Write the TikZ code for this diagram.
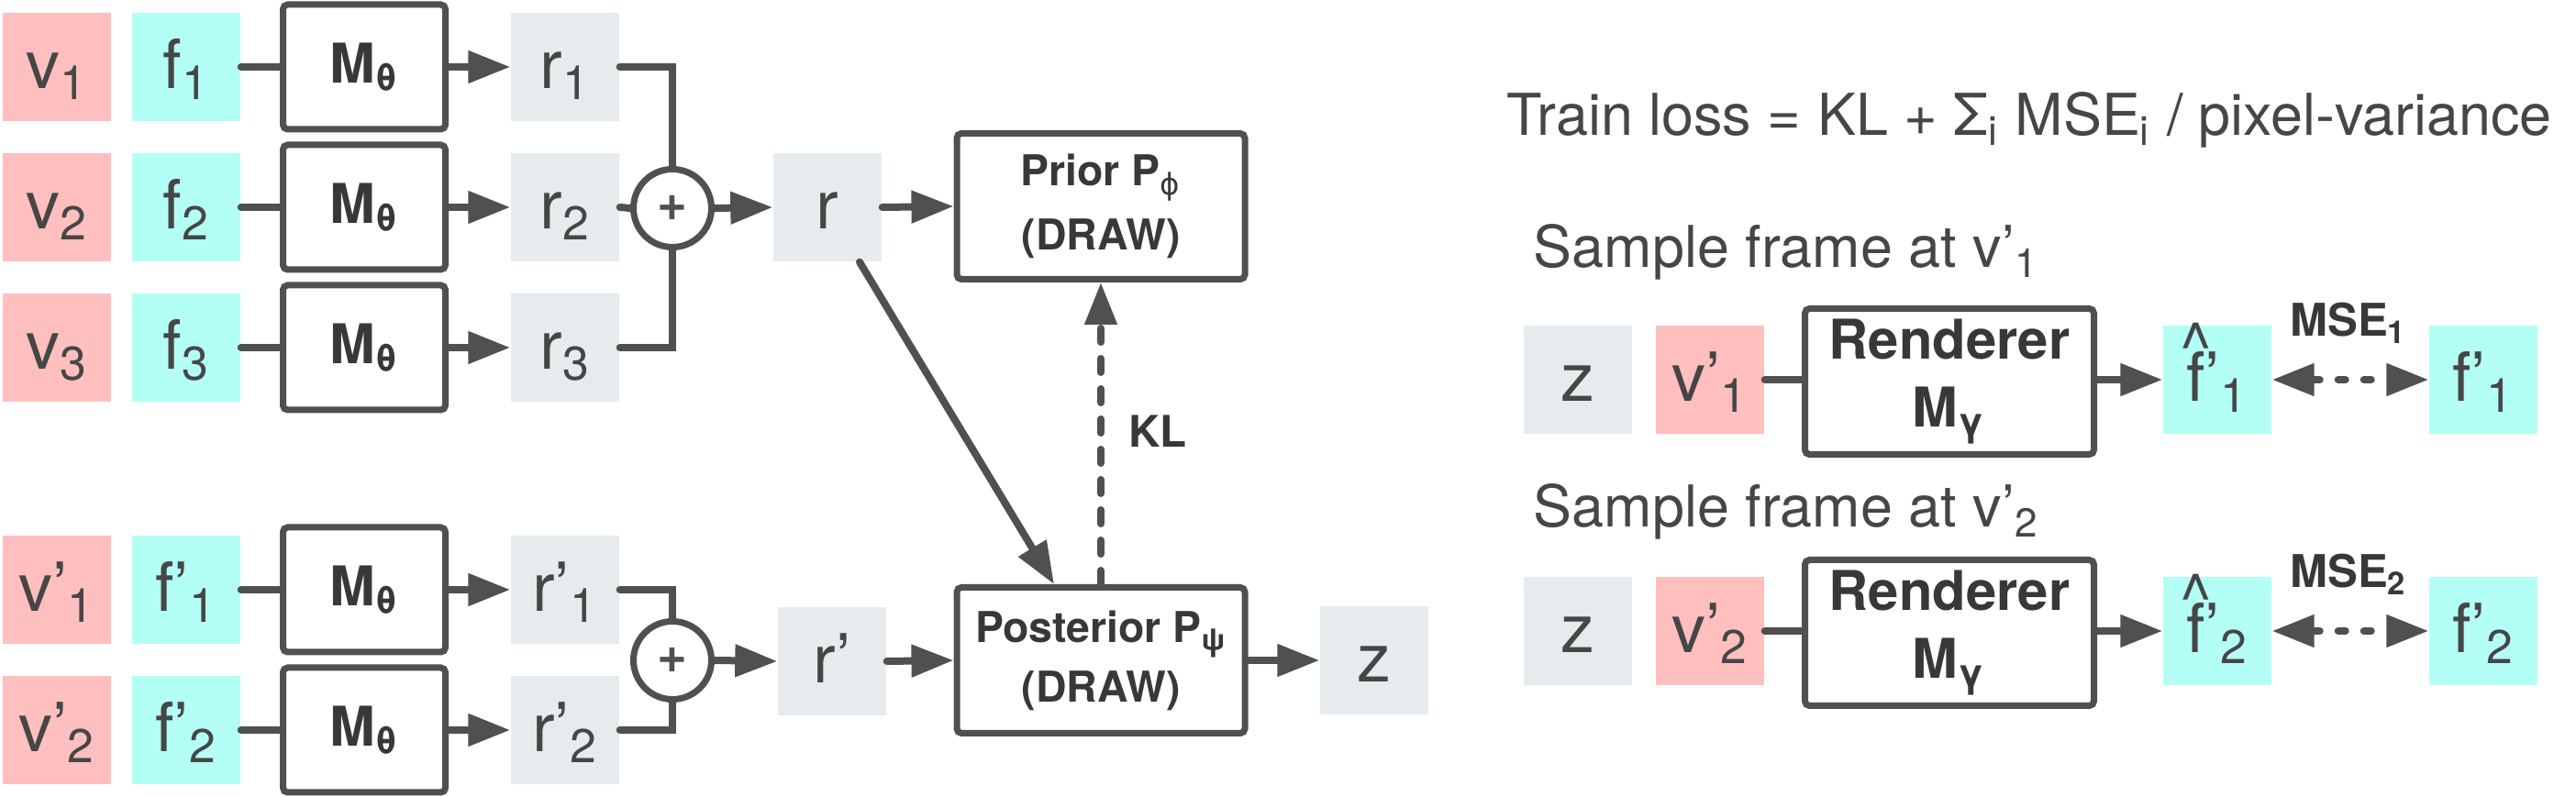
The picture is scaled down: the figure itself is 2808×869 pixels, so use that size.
\documentclass[tikz,border=0pt]{standalone}
\usepackage{fontspec}
\setmainfont{TeX Gyre Heros}
\newfontfamily\phifont{DejaVu Sans}
\usetikzlibrary{arrows.meta}
\definecolor{viewpink}{RGB}{255,191,191}
\definecolor{framecyan}{RGB}{179,255,245}
\definecolor{codegray}{RGB}{230,235,237}
\definecolor{linegray}{RGB}{80,80,80}
\definecolor{textgray}{RGB}{70,70,70}
\newcommand{\hatf}{\ooalign{f\cr\hidewidth\raisebox{0.46em}{\^{}}\hidewidth\cr}}
\tikzset{
	cell/.style={minimum width=11.8mm, minimum height=11.8mm, inner sep=0pt, text height=5.6mm, text depth=0.8mm, text=textgray, font=\fontsize{21}{21}\selectfont},
	viewcell/.style={cell, fill=viewpink},
	framecell/.style={cell, fill=framecyan},
	codecell/.style={cell, fill=codegray},
	netbox/.style={draw=linegray, line width=0.7mm, rounded corners=0.5mm, fill=white, inner sep=0pt, align=center, text=black!78},
	encbox/.style={netbox, minimum width=17.7mm, minimum height=13.6mm, font=\bfseries\fontsize{17}{17}\selectfont},
	drawbox/.style={netbox, minimum width=31.4mm, minimum height=15.9mm},
	rendbox/.style={netbox, minimum width=31.5mm, minimum height=15.9mm, font=\bfseries\fontsize{17}{21}\selectfont},
	sumnode/.style={circle, draw=linegray, line width=0.7mm, minimum size=8.5mm, inner sep=0pt, text=linegray, font=\bfseries\fontsize{16}{16}\selectfont},
	wire/.style={draw=linegray, line width=0.8mm, line cap=round},
	feed/.style={wire, -{Triangle[length=4.6mm,width=3.4mm]}},
	klfeed/.style={feed, dash pattern=on 1.5mm off 1.8mm},
	msefeed/.style={wire, {Triangle[length=4.6mm,width=3.4mm]}-{Triangle[length=4.6mm,width=3.4mm]}, dash pattern=on 0.8mm off 2.0mm},
	plain/.style={inner sep=0pt, text=textgray, font=\fontsize{17.9}{20}\selectfont},
	tag/.style={inner sep=0pt, text=black!78, font=\bfseries\fontsize{13.5}{13.5}\selectfont}
}

\begin{document}
\begin{tikzpicture}[x=0.1mm, y=-0.1mm]
			%%%%% START %%%%%
			\useasboundingbox (0,0) rectangle (2808,869);
			
			% context views
			\node[viewcell] (v1) at (62,73) {v\textsubscript{1}};
			\node[viewcell] (v2) at (62,226) {v\textsubscript{2}};
			\node[viewcell] (v3) at (62,379) {v\textsubscript{3}};
			\node[framecell] (f1) at (203,73) {f\textsubscript{1}};
			\node[framecell] (f2) at (203,226) {f\textsubscript{2}};
			\node[framecell] (f3) at (203,379) {f\textsubscript{3}};
			\node[encbox] (m1) at (397,73) {M\textsubscript{θ}};
			\node[encbox] (m2) at (397,226) {M\textsubscript{θ}};
			\node[encbox] (m3) at (397,379) {M\textsubscript{θ}};
			\node[codecell] (r1) at (616,73) {r\textsubscript{1}};
			\node[codecell] (r2) at (616,226) {r\textsubscript{2}};
			\node[codecell] (r3) at (616,379) {r\textsubscript{3}};
			\node[sumnode] (s1) at (733,227) {+};
			\node[codecell] (r) at (902,226) {r};
			
			\draw[wire] (f1.east) -- (m1.west);
			\draw[wire] (f2.east) -- (m2.west);
			\draw[wire] (f3.east) -- (m3.west);
			\draw[feed] (m1.east) -- (r1.west);
			\draw[feed] (m2.east) -- (r2.west);
			\draw[feed] (m3.east) -- (r3.west);
			\draw[wire] (r1.east) -| (s1.north);
			\draw[wire] (r2.east) -- (s1.west);
			\draw[wire] (r3.east) -| (s1.south);
			\draw[feed] (s1.east) -- (r.west);
			
			% target views
			\node[viewcell] (vp1) at (62,643) {v’\textsubscript{1}};
			\node[viewcell] (vp2) at (62,796) {v’\textsubscript{2}};
			\node[framecell] (fp1) at (203,643) {f’\textsubscript{1}};
			\node[framecell] (fp2) at (203,796) {f’\textsubscript{2}};
			\node[encbox] (mp1) at (397,643) {M\textsubscript{θ}};
			\node[encbox] (mp2) at (397,796) {M\textsubscript{θ}};
			\node[codecell] (rp1) at (616,643) {r’\textsubscript{1}};
			\node[codecell] (rp2) at (616,796) {r’\textsubscript{2}};
			\node[sumnode] (s2) at (733,720) {+};
			\node[codecell] (rp) at (907,721) {r’};
			
			\draw[wire] (fp1.east) -- (mp1.west);
			\draw[wire] (fp2.east) -- (mp2.west);
			\draw[feed] (mp1.east) -- (rp1.west);
			\draw[feed] (mp2.east) -- (rp2.west);
			\draw[wire] (rp1.east) -| (s2.north);
			\draw[wire] (rp2.east) -| (s2.south);
			\draw[feed] (s2.east) -- (rp.west);
			
			% prior and posterior
			\node[drawbox, font=\bfseries\fontsize{13.2}{20}\selectfont] (prior) at (1200,225) {Prior P\textsubscript{\phifont\mdseries ϕ}\\(DRAW)};
			\node[drawbox, font=\bfseries\fontsize{13.2}{18.5}\selectfont] (post) at (1200,720) {Posterior P\textsubscript{ψ}\\(DRAW)};
			\node[codecell] (z) at (1498,720) {z};
			\node[tag] (kl) at (1262,470) {KL};
			
			\draw[feed] (r.east) -- (prior.west);
			\draw[feed] ([xshift=3.5mm]r.south) -- ([xshift=-5.1mm]post.north);
			\draw[klfeed] (post.north) -- (prior.south);
			\draw[feed] (rp.east) -- (post.west);
			\draw[feed] (post.east) -- (z.west);
			
			% loss and sampling
			\node[plain, anchor=base west] (loss) at (1642,148) {Train loss = KL + Σ\textsubscript{i} MSE\textsubscript{i} / pixel-variance};
			\node[plain, anchor=base west] (head1) at (1671,292) {Sample frame at v’\textsubscript{1}};
			\node[plain, anchor=base west] (head2) at (1671,575) {Sample frame at v’\textsubscript{2}};
			
			\node[codecell] (za) at (1720,414) {z};
			\node[viewcell] (va) at (1864,414) {v’\textsubscript{1}};
			\node[rendbox] (renda) at (2125,416) {Renderer\\M\textsubscript{γ}};
			\node[framecell] (fha) at (2417,414) {\hatf’\textsubscript{1}};
			\node[framecell] (fta) at (2707,414) {f’\textsubscript{1}};
			\node[tag, font=\bfseries\fontsize{14}{14}\selectfont] (msea) at (2560,352) {MSE\textsubscript{1}};
			
			\draw[wire] (va.east) -- (va.east -| renda.west);
			\draw[feed] (renda.east |- fha) -- (fha.west);
			\draw[msefeed] (fha.east) -- (fta.west);
			
			\node[codecell] (zb) at (1720,688) {z};
			\node[viewcell] (vb) at (1864,688) {v’\textsubscript{2}};
			\node[rendbox] (rendb) at (2125,690) {Renderer\\M\textsubscript{γ}};
			\node[framecell] (fhb) at (2417,688) {\hatf’\textsubscript{2}};
			\node[framecell] (ftb) at (2707,688) {f’\textsubscript{2}};
			\node[tag, font=\bfseries\fontsize{14}{14}\selectfont] (mseb) at (2560,626) {MSE\textsubscript{2}};
			
			\draw[wire] (vb.east) -- (vb.east -| rendb.west);
			\draw[feed] (rendb.east |- fhb) -- (fhb.west);
			\draw[msefeed] (fhb.east) -- (ftb.west);
			
			%%%%% END %%%%%
		\end{tikzpicture}
\end{document}
